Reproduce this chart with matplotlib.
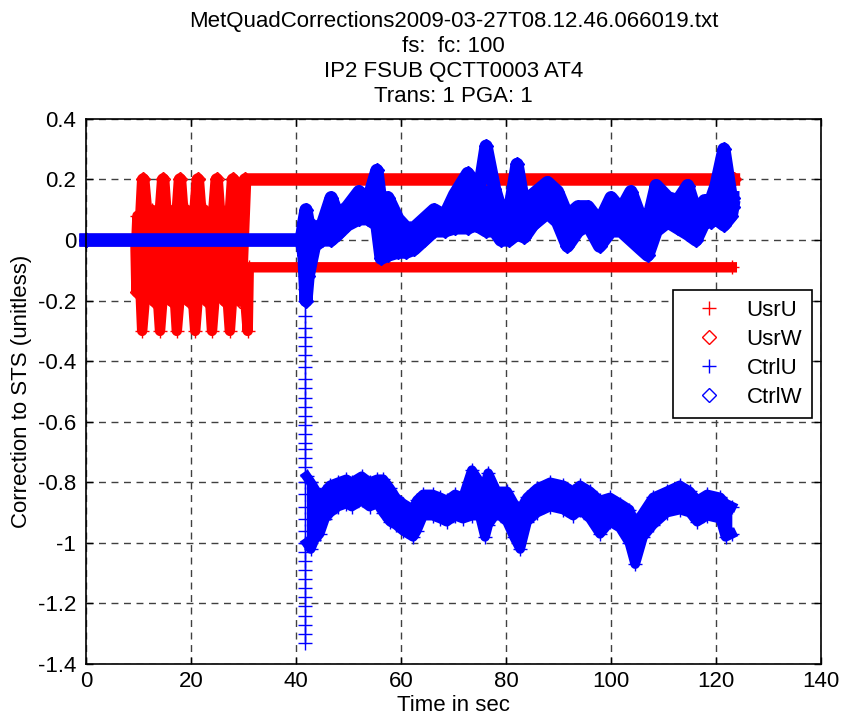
import numpy as np
import matplotlib.pyplot as plt
from matplotlib.lines import Line2D

plt.rcParams['font.family'] = ['Liberation Sans', 'DejaVu Sans']
plt.rcParams['font.size'] = 16
plt.rcParams['lines.solid_joinstyle'] = 'round'

# ---- data (time in s, correction value) ----
# user corrections: sweep between 10 and 31 s, then constant
usru_t = [0, 9.6, 9.8, 10.7, 12.6, 14.1, 15.9, 17.3, 19.2, 20.8, 22.6, 24.0, 25.8, 27.4, 29.0, 30.8, 31.0, 123.0]
usru_v = [0, 0, 0.08, -0.30, 0.10, -0.30, 0.10, -0.30, 0.10, -0.30, 0.10, -0.30, 0.10, -0.30, 0.10, -0.30, -0.09, -0.09]

usrw_t = [0, 9.6, 9.8, 10.9, 13.0, 14.7, 16.3, 17.9, 19.6, 21.3, 23.1, 24.9, 26.5, 28.0, 29.4, 30.3, 123.4]
usrw_v = [0, 0, -0.17, 0.20, -0.20, 0.20, -0.20, 0.20, -0.20, 0.20, -0.20, 0.20, -0.20, 0.20, -0.20, 0.20, 0.20]

# controller U: zero, fast drop at ~42 s, then noisy band (low / high edge)
ctrlu_pre_t = [0, 41.6]
ctrlu_pre_v = [0, 0]
ctrlu_drop_t = 41.8
ctrlu_drop_v = [-0.12, -0.16, -0.20, -0.25, -0.29, -0.32, -0.35, -0.38, -0.42, -0.46,
                -0.49, -0.52, -0.55, -0.58, -0.61, -0.64, -0.67, -0.69, -0.72, -0.75,
                -0.80, -0.84, -0.88, -0.92, -0.96, -1.00, -1.03, -1.06, -1.09, -1.12,
                -1.15, -1.18, -1.21, -1.24, -1.27, -1.30, -1.33]
ctrlu_t = [42.0, 42.8, 43.5, 44.5, 45.5, 46.5, 48.0, 49.6, 50.6, 52.5, 54.0, 55.5, 56.6, 57.9,
           59.0, 60.4, 62.3, 63.0, 64.2, 66.0, 67.5, 68.7, 70.3, 71.8, 73.5, 75.0, 76.0, 76.6,
           78.2, 80.2, 81.5, 82.7, 84.0, 85.9, 88.4, 90.9, 92.8, 94.1, 96.0, 97.9, 99.8, 101.7,
           103.5, 104.6, 106.1, 108.0, 110.6, 113.1, 115.0, 116.4, 118.3, 120.8, 121.8, 123.0]
ctrlu_lo = [-1.00, -1.02, -0.99, -0.97, -0.92, -0.90, -0.88, -0.87, -0.88, -0.86, -0.88, -0.87, -0.90, -0.93,
            -0.94, -0.96, -0.98, -0.96, -0.91, -0.91, -0.92, -0.93, -0.91, -0.92, -0.91, -0.91, -0.98, -0.94,
            -0.90, -0.93, -0.98, -1.02, -0.93, -0.90, -0.88, -0.89, -0.91, -0.89, -0.92, -0.97, -0.93, -0.95,
            -1.00, -1.07, -0.98, -0.94, -0.90, -0.89, -0.90, -0.93, -0.91, -0.92, -0.98, -0.97]
ctrlu_hi = [-0.78, -0.80, -0.82, -0.85, -0.83, -0.81, -0.80, -0.79, -0.80, -0.78, -0.80, -0.79, -0.79, -0.82,
            -0.85, -0.87, -0.89, -0.86, -0.84, -0.84, -0.85, -0.86, -0.84, -0.85, -0.76, -0.80, -0.81, -0.77,
            -0.83, -0.83, -0.87, -0.89, -0.85, -0.82, -0.80, -0.81, -0.83, -0.81, -0.83, -0.86, -0.85, -0.87,
            -0.89, -0.94, -0.90, -0.85, -0.83, -0.81, -0.83, -0.86, -0.84, -0.85, -0.87, -0.88]

# controller W: zero until ~41 s, then noisy band (low / high edge)
ctrlw_t = [0, 41.0, 41.5, 41.9, 42.3, 43.5, 45.0, 46.7, 48.0, 49.8, 52.0, 53.7, 55.4, 56.2, 57.5,
           59.4, 61.0, 62.5, 64.4, 66.3, 68.3, 70.2, 72.7, 74.3, 76.2, 77.8, 79.0, 80.6, 82.1,
           83.5, 85.1, 87.9, 89.8, 91.7, 93.7, 95.6, 97.8, 100.0, 101.9, 103.8, 105.7, 107.0,
           108.6, 110.8, 112.7, 114.6, 116.2, 117.8, 119.0, 120.0, 121.5, 122.9, 123.2]
ctrlw_lo = [0, 0, -0.05, -0.20, -0.12, -0.02, 0.00, 0.00, 0.02, 0.05, 0.07, 0.07, 0.05, -0.06, -0.05,
            -0.04, -0.04, -0.03, 0.00, 0.03, 0.03, 0.04, 0.04, 0.05, 0.03, 0.03, 0.00, 0.00, 0.02,
            0.01, 0.05, 0.09, 0.06, -0.02, 0.03, 0.05, -0.02, 0.03, 0.03, 0.00, -0.03, -0.05,
            0.03, 0.06, 0.04, 0.02, 0.00, 0.06, 0.06, 0.07, 0.05, 0.08, 0.11]
ctrlw_hi = [0, 0, 0.06, 0.10, 0.06, 0.04, 0.05, 0.14, 0.08, 0.11, 0.16, 0.13, 0.23, 0.12, 0.14,
            0.07, 0.04, 0.04, 0.07, 0.10, 0.08, 0.15, 0.22, 0.10, 0.31, 0.17, 0.10, 0.09, 0.25,
            0.11, 0.15, 0.19, 0.16, 0.08, 0.11, 0.11, 0.06, 0.14, 0.10, 0.16, 0.07, 0.06,
            0.18, 0.14, 0.13, 0.18, 0.09, 0.13, 0.13, 0.18, 0.30, 0.14, 0.14]

legend_labels = ['UsrU', 'UsrW', 'CtrlU', 'CtrlW']
title_lines = ['MetQuadCorrections2009-03-27T08.12.46.066019.txt',
               'fs:  fc: 100',
               'IP2 FSUB QCTT0003 AT4',
               'Trans: 1 PGA: 1']

fig = plt.figure(figsize=(8.43, 7.22), dpi=100)
ax = fig.add_axes([0.102, 0.0803, 0.872, 0.755])

red = (1, 0, 0)
blue = (0, 0, 1)

# user corrections
ax.plot(usru_t, usru_v, '-', color=red, lw=7.5, marker='+', ms=10, mew=1, clip_on=False)
ax.plot(usrw_t, usrw_v, '-', color=red, lw=9, marker='D', ms=7, mfc='none', mew=1, clip_on=False)

# controller U
ax.plot(ctrlu_pre_t, ctrlu_pre_v, '-', color=blue, lw=6, marker='+', ms=10, clip_on=False)
ax.plot([ctrlu_drop_t] * len(ctrlu_drop_v), ctrlu_drop_v, '-', color=blue, lw=1,
        marker='+', ms=10, mew=1)
ax.fill_between(ctrlu_t, ctrlu_lo, ctrlu_hi, color=blue, lw=0)
for edge in (ctrlu_lo, ctrlu_hi):
    ax.plot(ctrlu_t, edge, '-', color=blue, lw=7, marker='+', ms=10, mew=1)

# controller W
ax.fill_between(ctrlw_t, ctrlw_lo, ctrlw_hi, color=blue, lw=0)
for edge in (ctrlw_lo, ctrlw_hi):
    ax.plot(ctrlw_t, edge, '-', color=blue, lw=9.5, marker='D', ms=7, mfc=blue, mew=1,
            clip_on=False)

ax.set_xlim(0, 140)
ax.set_ylim(-1.4, 0.4)
ax.set_xticks(np.arange(0, 141, 20))
ax.set_yticks(np.round(np.arange(-1.4, 0.41, 0.2), 1))
ax.set_yticklabels(['-1.4', '-1.2', '-1', '-0.8', '-0.6', '-0.4', '-0.2', '0', '0.2', '0.4'])
ax.grid(True, color='0.25', ls=(0, (5, 4)), lw=1)
ax.set_axisbelow(True)
ax.tick_params(direction='in', length=5, width=1, top=True, right=True, pad=7, labelsize=16)
ax.tick_params(axis='x', pad=5)
for s in ax.spines.values():
    s.set_linewidth(1.2)

ax.set_xlabel('Time in sec', labelpad=2, fontsize=16)
ax.set_ylabel('Correction to STS (unitless)', labelpad=4, fontsize=16)
ax.set_title('\n'.join(title_lines), pad=12, linespacing=1.25, fontsize=16)

handles = [Line2D([], [], ls='none', marker='+', color=red, ms=10, mew=1),
           Line2D([], [], ls='none', marker='D', color=red, ms=7, mfc='none', mew=1),
           Line2D([], [], ls='none', marker='+', color=blue, ms=10, mew=1),
           Line2D([], [], ls='none', marker='D', color=blue, ms=7, mfc='none', mew=1)]
leg = ax.legend(handles, legend_labels, loc='upper left', bbox_to_anchor=(0.799, 0.686),
                borderaxespad=0, fancybox=False, framealpha=1, edgecolor='black', fontsize=16,
                handlelength=2.3, handletextpad=0.55, labelspacing=0.36, borderpad=0.45)
leg.get_frame().set_linewidth(1.2)

fig.savefig('out.png', dpi=100)
